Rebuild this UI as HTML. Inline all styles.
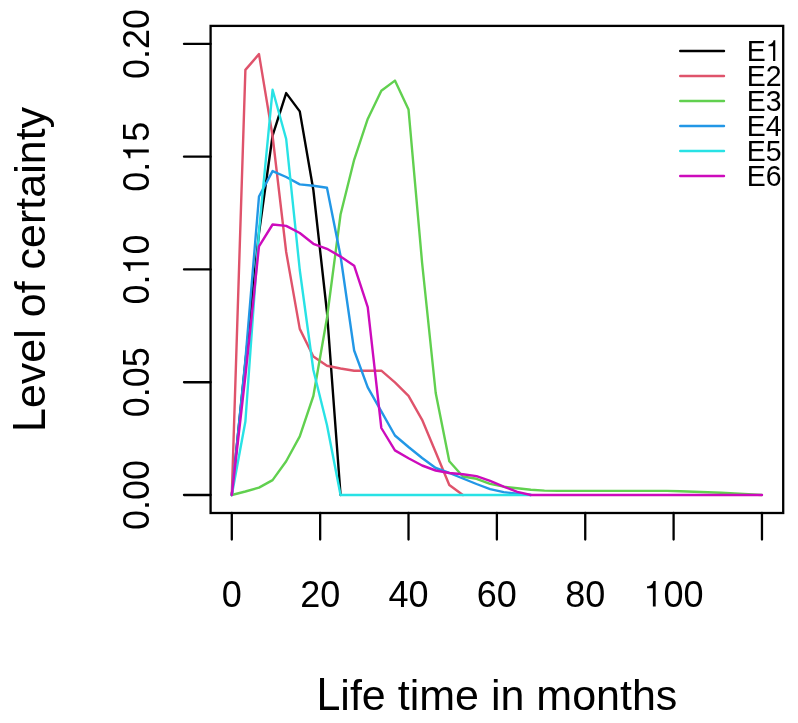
<!DOCTYPE html>
<html><head><meta charset="utf-8"><style>
html,body{margin:0;padding:0;background:#fff;}
svg{display:block;will-change:transform;}
text{font-family:"Liberation Sans",sans-serif;}
</style></head><body>
<svg width="798" height="723" viewBox="0 0 798 723">
<rect width="798" height="723" fill="#fff"/>
<g fill="none" stroke-width="2.4" stroke-linejoin="round" stroke-linecap="round">
<polyline points="231.80,495.00 245.39,362.00 258.99,233.00 272.58,135.70 286.18,93.10 299.77,111.40 313.36,190.00 326.96,312.00 340.55,495.00" stroke="#000000"/>
<polyline points="231.80,495.00 245.39,69.90 258.99,54.10 272.58,136.00 286.18,252.00 299.77,328.90 313.36,356.50 326.96,365.80 340.55,368.50 354.15,370.70 367.74,370.70 381.33,370.70 394.93,382.40 408.52,395.80 422.12,419.80 435.71,452.20 449.30,485.00 462.90,495.00" stroke="#DF536B"/>
<polyline points="231.80,495.00 245.39,491.50 258.99,487.60 272.58,480.10 286.18,461.30 299.77,436.40 313.36,396.00 326.96,318.00 340.55,214.50 354.15,159.80 367.74,118.90 381.33,90.70 394.93,80.60 408.52,109.50 422.12,263.00 435.71,393.00 449.30,461.30 462.90,476.50 476.49,478.80 490.09,483.80 503.68,486.70 517.27,488.30 530.87,489.70 544.46,490.60 558.06,490.90 571.65,490.90 585.24,490.90 598.84,490.90 612.43,490.90 626.03,490.90 639.62,490.90 653.21,490.90 666.81,490.90 680.40,491.20 694.00,491.70 707.59,492.20 721.18,492.80 734.78,493.50 748.37,494.20 761.97,495.00" stroke="#61D04F"/>
<polyline points="231.80,495.00 245.39,360.00 258.99,196.50 272.58,171.10 286.18,177.00 299.77,184.40 313.36,185.70 326.96,187.80 340.55,256.00 354.15,350.50 367.74,387.30 381.33,411.40 394.93,435.50 408.52,447.00 422.12,458.00 435.71,468.00 449.30,473.00 462.90,478.50 476.49,484.00 490.09,489.10 503.68,492.10 517.27,493.80 530.87,495.00" stroke="#2297E6"/>
<polyline points="231.80,495.00 245.39,421.50 258.99,231.00 272.58,89.80 286.18,139.00 299.77,270.00 313.36,370.00 326.96,425.00 340.55,495.00 354.15,495.00 367.74,495.00 381.33,495.00 394.93,495.00 408.52,495.00 422.12,495.00 435.71,495.00 449.30,495.00 462.90,495.00 476.49,495.00 490.09,495.00 503.68,495.00 517.27,495.00 530.87,495.00" stroke="#28E2E5"/>
<polyline points="231.80,495.00 245.39,376.00 258.99,246.30 272.58,224.50 286.18,225.90 299.77,233.00 313.36,243.80 326.96,248.80 340.55,256.60 354.15,265.70 367.74,307.20 381.33,428.00 394.93,450.40 408.52,458.30 422.12,465.50 435.71,470.50 449.30,473.00 462.90,474.30 476.49,476.10 490.09,480.80 503.68,486.70 517.27,491.80 530.87,495.00 544.46,495.00 558.06,495.00 571.65,495.00 585.24,495.00 598.84,495.00 612.43,495.00 626.03,495.00 639.62,495.00 653.21,495.00 666.81,495.00 680.40,495.00 694.00,495.00 707.59,495.00 721.18,495.00 734.78,495.00 748.37,495.00 761.97,495.00" stroke="#CD0BBC"/>
</g>
<g stroke="#000" stroke-width="2.3" stroke-linecap="round" fill="none">
<rect x="210.6" y="25.9" width="572.60" height="487.10"/>
<line x1="184" y1="495.00" x2="210.60" y2="495.00"/>
<line x1="184" y1="382.23" x2="210.60" y2="382.23"/>
<line x1="184" y1="269.46" x2="210.60" y2="269.46"/>
<line x1="184" y1="156.69" x2="210.60" y2="156.69"/>
<line x1="184" y1="43.92" x2="210.60" y2="43.92"/>
<line x1="231.80" y1="513.00" x2="231.80" y2="539.5"/>
<line x1="320.16" y1="513.00" x2="320.16" y2="539.5"/>
<line x1="408.52" y1="513.00" x2="408.52" y2="539.5"/>
<line x1="496.88" y1="513.00" x2="496.88" y2="539.5"/>
<line x1="585.24" y1="513.00" x2="585.24" y2="539.5"/>
<line x1="673.60" y1="513.00" x2="673.60" y2="539.5"/>
<line x1="761.96" y1="513.00" x2="761.96" y2="539.5"/>
</g>
<g font-size="36" fill="#000" stroke="none">
<g transform="translate(148.8 495.00) rotate(-90) scale(1 1.030) translate(-35.03 0)"><text x="0.00" y="0">0.00</text></g>
<g transform="translate(148.8 382.23) rotate(-90) scale(1 1.030) translate(-35.03 0)"><text x="0.00" y="0">0.05</text></g>
<g transform="translate(148.8 269.46) rotate(-90) scale(1 1.030) translate(-35.03 0)"><text x="0.00" y="0">0.</text>
<path d="M258 0L336 0L336 692L274 692C262 632 215 552 97 547L97 494L258 494Z" transform="translate(30.02 0) scale(0.03600 -0.03600)"/>
<text x="50.04" y="0">0</text></g>
<g transform="translate(148.8 156.69) rotate(-90) scale(1 1.030) translate(-35.03 0)"><text x="0.00" y="0">0.</text>
<path d="M258 0L336 0L336 692L274 692C262 632 215 552 97 547L97 494L258 494Z" transform="translate(30.02 0) scale(0.03600 -0.03600)"/>
<text x="50.04" y="0">5</text></g>
<g transform="translate(148.8 43.92) rotate(-90) scale(1 1.030) translate(-35.03 0)"><text x="0.00" y="0">0.20</text></g>
<g transform="translate(231.80 606.6) scale(1 1.030) translate(-10.01 0)"><text x="0.00" y="0">0</text></g>
<g transform="translate(320.16 606.6) scale(1 1.030) translate(-20.02 0)"><text x="0.00" y="0">20</text></g>
<g transform="translate(408.52 606.6) scale(1 1.030) translate(-20.02 0)"><text x="0.00" y="0">40</text></g>
<g transform="translate(496.88 606.6) scale(1 1.030) translate(-20.02 0)"><text x="0.00" y="0">60</text></g>
<g transform="translate(585.24 606.6) scale(1 1.030) translate(-20.02 0)"><text x="0.00" y="0">80</text></g>
<g transform="translate(673.60 606.6) scale(1 1.030) translate(-30.02 0)"><path d="M258 0L336 0L336 692L274 692C262 632 215 552 97 547L97 494L258 494Z" transform="translate(0.00 0) scale(0.03600 -0.03600)"/>
<text x="20.02" y="0">00</text></g>
</g>
<g font-size="43" fill="#000">
<g transform="translate(316.46 709.8)"><text x="0" y="0" transform="scale(1 1.055)">L</text><text x="23.92" y="0">ife time in months</text></g>
<g transform="translate(44.8 269.45) rotate(-90) translate(-162.53 0)"><text x="0" y="0" transform="scale(1 1.055)">L</text><text x="23.92" y="0">evel of certainty</text></g>
</g>
<g stroke-width="2.4" stroke-linecap="round" font-size="28.5" fill="#000">
<line x1="680.2" y1="51.00" x2="724.0" y2="51.00" stroke="#000000"/>
<g transform="translate(746.7 60.95) scale(1 1.045)" stroke="none"><text x="0.00" y="0">E</text>
<path d="M258 0L336 0L336 692L274 692C262 632 215 552 97 547L97 494L258 494Z" transform="translate(19.01 0) scale(0.02850 -0.02850)"/></g>
<line x1="680.2" y1="76.00" x2="724.0" y2="76.00" stroke="#DF536B"/>
<g transform="translate(746.7 85.95) scale(1 1.045)" stroke="none"><text x="0.00" y="0">E2</text></g>
<line x1="680.2" y1="101.00" x2="724.0" y2="101.00" stroke="#61D04F"/>
<g transform="translate(746.7 110.95) scale(1 1.045)" stroke="none"><text x="0.00" y="0">E3</text></g>
<line x1="680.2" y1="126.00" x2="724.0" y2="126.00" stroke="#2297E6"/>
<g transform="translate(746.7 135.95) scale(1 1.045)" stroke="none"><text x="0.00" y="0">E4</text></g>
<line x1="680.2" y1="151.00" x2="724.0" y2="151.00" stroke="#28E2E5"/>
<g transform="translate(746.7 160.95) scale(1 1.045)" stroke="none"><text x="0.00" y="0">E5</text></g>
<line x1="680.2" y1="176.00" x2="724.0" y2="176.00" stroke="#CD0BBC"/>
<g transform="translate(746.7 185.95) scale(1 1.045)" stroke="none"><text x="0.00" y="0">E6</text></g>
</g>
</svg>
</body></html>
